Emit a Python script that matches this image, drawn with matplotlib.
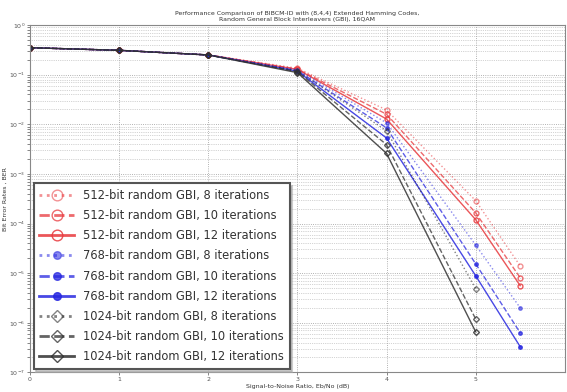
import numpy as np
import matplotlib
matplotlib.use("Agg")
import matplotlib.pyplot as plt

# SNR points (dB)
snr_full = [0, 1, 2, 3, 4, 5, 5.5]
snr_short = [0, 1, 2, 3, 4, 5]

# BER values
ber_512_8 = [0.35, 0.31, 0.25, 0.135, 0.0195, 2.9e-4, 1.4e-5]
ber_512_10 = [0.35, 0.31, 0.25, 0.13, 0.016, 1.65e-4, 8.1e-6]
ber_512_12 = [0.35, 0.31, 0.25, 0.128, 0.0128, 1.2e-4, 5.6e-6]
ber_768_8 = [0.35, 0.31, 0.25, 0.125, 0.0107, 3.7e-5, 2.0e-6]
ber_768_10 = [0.35, 0.31, 0.25, 0.12, 0.0085, 1.55e-5, 6.3e-7]
ber_768_12 = [0.35, 0.31, 0.25, 0.118, 0.0053, 8.9e-6, 3.3e-7]
ber_1024_8 = [0.35, 0.31, 0.25, 0.12, 0.0074, 4.9e-6]
ber_1024_10 = [0.35, 0.31, 0.25, 0.115, 0.0039, 1.2e-6]
ber_1024_12 = [0.35, 0.31, 0.25, 0.11, 0.0026, 6.6e-7]

labels = [
    "512-bit random GBI, 8 iterations",
    "512-bit random GBI, 10 iterations",
    "512-bit random GBI, 12 iterations",
    "768-bit random GBI, 8 iterations",
    "768-bit random GBI, 10 iterations",
    "768-bit random GBI, 12 iterations",
    "1024-bit random GBI, 8 iterations",
    "1024-bit random GBI, 10 iterations",
    "1024-bit random GBI, 12 iterations",
]

fig = plt.figure(figsize=(5.67, 3.92), dpi=100)
ax = fig.add_axes([0.053, 0.05, 0.943, 0.886])

series = [
    (snr_full, ber_512_8, "#e8383c", ":", "o", "none", 0.55),
    (snr_full, ber_512_10, "#e8383c", "--", "o", "none", 0.75),
    (snr_full, ber_512_12, "#e8383c", "-", "o", "none", 0.85),
    (snr_full, ber_768_8, "#2828e0", ":", "o", None, 0.55),
    (snr_full, ber_768_10, "#2828e0", "--", "o", None, 0.75),
    (snr_full, ber_768_12, "#2828e0", "-", "o", None, 0.85),
    (snr_short, ber_1024_8, "#303030", ":", "D", "none", 0.6),
    (snr_short, ber_1024_10, "#303030", "--", "D", "none", 0.75),
    (snr_short, ber_1024_12, "#303030", "-", "D", "none", 0.85),
]

for (x, y, c, ls, mk, mfc, a), lab in zip(series, labels):
    msize = 2.5 if mfc is None else 3.5
    if mk == "D":
        msize = 3
    ax.semilogy(x, y, color=c, linestyle=ls, linewidth=1.0, alpha=a,
                marker=mk, markersize=msize,
                markerfacecolor=c if mfc is None else "none",
                markeredgecolor=c, markeredgewidth=1.0, label=lab)

ax.set_xlim(0, 6)
ax.set_ylim(1e-7, 1)
ax.set_xticks([0, 1, 2, 3, 4, 5])
ax.set_yticks([10.0 ** k for k in range(-7, 1)])
ax.grid(True, which="major", linestyle=":", color="#999999", linewidth=0.6)
ax.grid(True, which="minor", linestyle=":", color="#aaaaaa", linewidth=0.5)
ax.tick_params(axis="both", which="both", labelsize=4.5, length=2, width=0.5,
               colors="#555555", pad=1.5)
for s in ax.spines.values():
    s.set_color("#888888")
    s.set_linewidth(0.8)

ax.set_title("Performance Comparison of BIBCM-ID with (8,4,4) Extended Hamming Codes,\n"
             "Random General Block Interleavers (GBI), 16QAM", fontsize=4.5, color="#333333", pad=3)
ax.set_xlabel("Signal-to-Noise Ratio, Eb/No (dB)", fontsize=4.5, color="#333333", labelpad=1)
ax.set_ylabel("Bit Error Rates , BER", fontsize=4.5, color="#333333", labelpad=1)

leg = ax.legend(loc="lower left", fontsize=8.3, frameon=True, fancybox=False,
                edgecolor="#555555", handlelength=3.0, labelspacing=0.62,
                borderaxespad=0.3, borderpad=0.5, markerscale=2.2,
                shadow={"color": "#aaaaaa", "alpha": 0.6})
leg.get_frame().set_linewidth(1.5)
for h in leg.legend_handles:
    h.set_linewidth(2.0)
for t in leg.get_texts():
    t.set_color("#333333")

fig.savefig("out.png", dpi=100)
